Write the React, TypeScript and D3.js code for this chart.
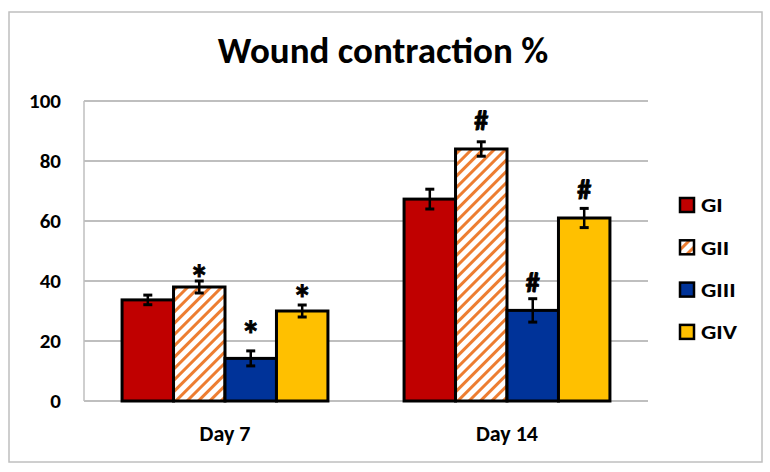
import React from "react";
import * as d3 from "d3";

const categories = ["Day 7", "Day 14"];
const series = ["GI", "GII", "GIII", "GIV"];
const values: number[][] = [
  [33.7, 38, 14.2, 30],
  [67.3, 84, 30.2, 61],
];
const errors: number[][] = [
  [1.6, 2, 2.5, 2],
  [3.3, 2.4, 3.9, 3.2],
];
const marks: string[][] = [
  ["", "*", "*", "*"],
  ["", "#", "#", "#"],
];
const markValues: number[][] = [
  [0, 44, 25.3, 37.3],
  [0, 93.7, 39.7, 70.7],
];
const yTicks = [0, 20, 40, 60, 80, 100];
const colors = ["#c00000", "url(#hatch)", "#003399", "#ffc000"];
const title = "Wound contraction %";

const FONT = "Carlito, Lato, 'Open Sans', sans-serif";

export default function App() {
  const W = 770,
    H = 472;
  const left = 84,
    right = 648,
    top = 101,
    bottom = 401;
  const x = d3
    .scaleBand<string>()
    .domain(categories)
    .range([left, right])
    .paddingInner(0.27)
    .paddingOuter(0.135);
  const xi = d3.scaleBand<string>().domain(series).range([0, x.bandwidth()]).padding(0);
  const y = d3.scaleLinear().domain([0, 100]).range([bottom, top]);

  return (
    <svg
      width={W}
      height={H}
      style={{ position: "absolute", left: 0, top: 0, background: "#fff" }}
    >
      <defs>
        <pattern
          id="hatch"
          patternUnits="userSpaceOnUse"
          width={8}
          height={8}
          patternTransform="rotate(45)"
        >
          <rect width={8} height={8} fill="#fff" />
          <rect x={0} y={0} width={3} height={8} fill="#ed7d31" />
        </pattern>
      </defs>
      <rect x={9} y={12} width={753} height={450} fill="#fff" stroke="#bfbfbf" strokeWidth={1.5} />
      <text
        x={383}
        y={63}
        textAnchor="middle"
        fontFamily={FONT}
        fontWeight="bold"
        fontSize={37}
        fill="#000"
      >
        {title}
      </text>
      {yTicks.map((t) => (
        <g key={t}>
          <line x1={left} x2={right} y1={y(t)} y2={y(t)} stroke="#bfbfbf" strokeWidth={2} />
          <text
            x={61}
            y={y(t)}
            textAnchor="end"
            dominantBaseline="central"
            fontFamily={FONT}
            fontWeight="bold"
            fontSize={21}
          >
            {t}
          </text>
        </g>
      ))}
      <line x1={left} x2={left} y1={top} y2={bottom} stroke="#bfbfbf" strokeWidth={1.5} />
      {categories.map((c, ci) => (
        <g key={c} transform={`translate(${x(c)},0)`}>
          {series.map((s, si) => {
            const v = values[ci][si];
            const bx = xi(s)!;
            const bw = xi.bandwidth();
            const cx = bx + bw / 2;
            const e = errors[ci][si];
            const m = marks[ci][si];
            return (
              <g key={s}>
                <rect
                  x={bx}
                  y={y(v)}
                  width={bw}
                  height={y(0) - y(v)}
                  fill={colors[si]}
                  stroke="#000"
                  strokeWidth={3}
                />
                <line x1={cx} x2={cx} y1={y(v + e)} y2={y(v - e)} stroke="#000" strokeWidth={2.5} />
                <line x1={cx - 4.5} x2={cx + 4.5} y1={y(v + e)} y2={y(v + e)} stroke="#000" strokeWidth={3} />
                <line x1={cx - 4.5} x2={cx + 4.5} y1={y(v - e)} y2={y(v - e)} stroke="#000" strokeWidth={3} />
                {m && (
                  <text
                    x={cx}
                    y={y(markValues[ci][si]) + (m === "*" ? 10 : 1)}
                    textAnchor="middle"
                    dominantBaseline="central"
                    fontFamily={FONT}
                    fontWeight="bold"
                    fontSize={m === "*" ? 38 : 28}
                    stroke="#000"
                    strokeWidth={0.8}
                  >
                    {m}
                  </text>
                )}
              </g>
            );
          })}
          <text
            x={x.bandwidth() / 2}
            y={441}
            textAnchor="middle"
            fontFamily={FONT}
            fontWeight="bold"
            fontSize={22}
          >
            {c}
          </text>
        </g>
      ))}
      {series.map((s, si) => {
        const ly = 205 + si * 42.3;
        return (
          <g key={s}>
            <rect x={680} y={ly - 7} width={14} height={14} fill={colors[si]} stroke="#000" strokeWidth={2.5} />
            <text
              transform={`translate(701,${ly}) scale(1.15,1)`}
              dominantBaseline="central"
              fontFamily={FONT}
              fontWeight="bold"
              fontSize={21}
            >
              {s}
            </text>
          </g>
        );
      })}
    </svg>
  );
}
